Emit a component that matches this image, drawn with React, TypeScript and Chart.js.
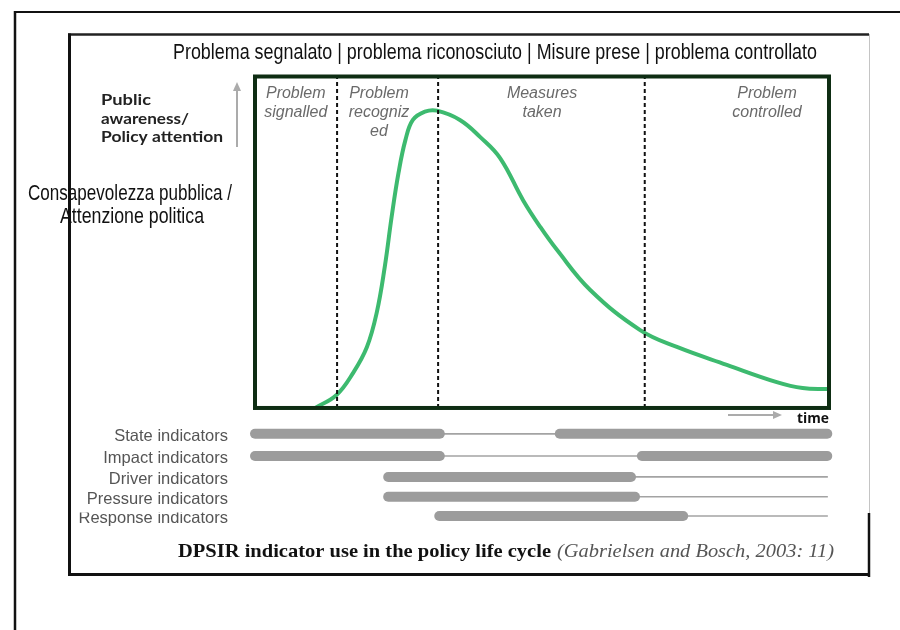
import React, { useEffect, useRef } from "react";
import { Chart, registerables } from "chart.js";
Chart.register(...registerables);

// ---------- data ----------
const TITLE_IT = "Problema segnalato | problema riconosciuto | Misure prese | problema controllato";
const YLABEL_IT = ["Consapevolezza pubblica /", "Attenzione politica"];
const YLABEL_EN = ["Public", "awareness/", "Policy attention"];
const X_LABEL = "time";

const PHASE_LABELS: string[][] = [
  ["Problem", "signalled"],
  ["Problem", "recogniz", "ed"],
  ["Measures", "taken"],
  ["Problem", "controlled"],
];
const PHASE_CENTERS = [7.1, 21.6, 50.0, 89.2];
const PHASE_BOUNDARIES = [14.3, 31.9, 67.9];

const CURVE_X = [10.5, 14.2, 17.1, 19.5, 21.2, 22.6, 23.8, 25.0, 26.2, 27.5, 29.6, 31.7, 35.7, 39.2, 42.7, 46.7, 49.7, 52.6, 58.4, 67.1, 73.5, 82.2, 90.9, 95.4, 99.8];
const CURVE_Y = [0, 3.9, 10.6, 18.4, 28.7, 42.5, 57.6, 70.9, 80.8, 86.9, 89.4, 89.7, 86.9, 81.8, 75.4, 62.7, 54.6, 47.7, 35.6, 23.5, 18.4, 13.0, 7.8, 6.0, 5.7];

const INDICATORS = ["State indicators", "Impact indicators", "Driver indicators", "Pressure indicators", "Response indicators"];
const INDICATOR_ROW = [-7.8, -14.5, -20.8, -26.8, -32.6];
const INDICATOR_THICK: number[][][] = [
  [[0.0, 32.2], [53.1, 99.7]],
  [[0.0, 32.2], [67.4, 99.7]],
  [[23.2, 65.5]],
  [[23.2, 66.2]],
  [[32.1, 74.6]],
];
const INDICATOR_THIN_END = [99.7, 99.7, 99.8, 99.8, 99.8];

const CAPTION_BOLD = "DPSIR indicator use in the policy life cycle";
const CAPTION_ITALIC = "(Gabrielsen and Bosch, 2003: 11)";

// ---------- helpers ----------
function fitText(ctx: CanvasRenderingContext2D, text: string, x: number, y: number, width: number, align: "left" | "center" | "right") {
  const w = ctx.measureText(text).width;
  const s = width / w;
  const x0 = align === "left" ? x : align === "center" ? x - width / 2 : x - width;
  ctx.save();
  ctx.translate(x0, y);
  ctx.scale(s, 1);
  ctx.textAlign = "left";
  ctx.fillText(text, 0, 0);
  ctx.restore();
}

function line(ctx: CanvasRenderingContext2D, x1: number, y1: number, x2: number, y2: number, w: number, c: string) {
  ctx.save();
  ctx.strokeStyle = c;
  ctx.lineWidth = w;
  ctx.beginPath();
  ctx.moveTo(x1, y1);
  ctx.lineTo(x2, y2);
  ctx.stroke();
  ctx.restore();
}

const decoPlugin = {
  id: "deco",
  beforeDraw(chart: any) {
    const ctx: CanvasRenderingContext2D = chart.ctx;
    ctx.save();
    ctx.fillStyle = "#ffffff";
    ctx.fillRect(0, 0, chart.width, chart.height);
    ctx.restore();
    // outer frame
    line(ctx, 14, 12, 900, 12, 2, "#111");
    line(ctx, 15, 11, 15, 630, 2.5, "#111");
    // inner frame
    line(ctx, 68, 34.5, 869, 34.5, 2.5, "#222");
    line(ctx, 869.5, 34, 869.5, 513, 1, "#c4c4c4");
    line(ctx, 869, 513, 869, 577, 2.5, "#111");
    line(ctx, 69.5, 33.5, 69.5, 576, 3, "#111");
    line(ctx, 68, 574.5, 870, 574.5, 3, "#111");
  },
  afterDatasetsDraw(chart: any) {
    const ctx: CanvasRenderingContext2D = chart.ctx;
    const xs = chart.scales.x;
    const ys = chart.scales.y;
    const L = xs.getPixelForValue(0);
    const R = xs.getPixelForValue(100);
    const T = ys.getPixelForValue(100);
    const B = ys.getPixelForValue(0);

    // plot frame
    ctx.save();
    ctx.strokeStyle = "#0e2d13";
    ctx.lineWidth = 4;
    ctx.strokeRect(L, T, R - L, B - T);
    ctx.restore();

    ctx.save();
    ctx.textBaseline = "alphabetic";

    // phase labels
    ctx.fillStyle = "#6a6a6a";
    ctx.font = 'italic 16px "Liberation Sans", Arial, sans-serif';
    ctx.textAlign = "center";
    PHASE_LABELS.forEach((lines, i) => {
      const cx = xs.getPixelForValue(PHASE_CENTERS[i]);
      lines.forEach((t, j) => ctx.fillText(t, cx, T + 21.5 + j * 19.2));
    });

    // top title
    ctx.fillStyle = "#111";
    ctx.font = '22px "Liberation Sans Narrow", "Liberation Sans", Arial, sans-serif';
    fitText(ctx, TITLE_IT, 495, 59, 644, "center");

    // italian y label
    fitText(ctx, YLABEL_IT[0], 28, 200, 204, "left");
    fitText(ctx, YLABEL_IT[1], 60, 223, 144, "left");

    // english y label
    ctx.fillStyle = "#222";
    ctx.font = 'bold 15px Lato, "Open Sans", sans-serif';
    fitText(ctx, YLABEL_EN[0], 101, 105, 50, "left");
    fitText(ctx, YLABEL_EN[1], 101, 124, 88, "left");
    fitText(ctx, YLABEL_EN[2], 101, 142, 122, "left");

    // vertical arrow
    line(ctx, 237, 147, 237, 88, 2, "#ababab");
    ctx.fillStyle = "#ababab";
    ctx.beginPath();
    ctx.moveTo(237, 82);
    ctx.lineTo(233, 91);
    ctx.lineTo(241, 91);
    ctx.closePath();
    ctx.fill();

    // horizontal arrow + time
    line(ctx, 728, 415, 775, 415, 2, "#ababab");
    ctx.beginPath();
    ctx.moveTo(782, 415);
    ctx.lineTo(773, 411);
    ctx.lineTo(773, 419);
    ctx.closePath();
    ctx.fill();
    ctx.fillStyle = "#111";
    ctx.font = 'bold 14px "Open Sans", Lato, sans-serif';
    fitText(ctx, X_LABEL, 829, 423, 32, "right");

    // indicator labels
    ctx.fillStyle = "#555";
    ctx.font = '16.5px "Liberation Sans", Arial, sans-serif';
    ctx.textAlign = "right";
    INDICATORS.forEach((t, i) => {
      const py = ys.getPixelForValue(INDICATOR_ROW[i]);
      ctx.save();
      if (i === INDICATORS.length - 1) {
        ctx.beginPath();
        ctx.rect(0, py - 3.5, 260, 40);
        ctx.clip();
      }
      ctx.fillText(t, 228, py + 6.8);
      ctx.restore();
    });

    // caption
    ctx.fillStyle = "#111";
    ctx.font = 'bold 19px "Liberation Serif", "Times New Roman", serif';
    fitText(ctx, CAPTION_BOLD, 178, 557, 373, "left");
    ctx.fillStyle = "#555";
    ctx.font = 'italic 19px "Liberation Serif", "Times New Roman", serif';
    fitText(ctx, CAPTION_ITALIC, 557, 557, 277, "left");

    ctx.restore();
  },
};

export default function App() {
  const ref = useRef<HTMLCanvasElement | null>(null);
  useEffect(() => {
    if (!ref.current) return;
    const datasets: any[] = [];

    PHASE_BOUNDARIES.forEach((b) => {
      datasets.push({
        data: [{ x: b, y: 0 }, { x: b, y: 100 }],
        borderColor: "#111",
        borderWidth: 2,
        borderDash: [4, 3],
        pointRadius: 0,
        order: 0,
        clip: false,
      });
    });

    datasets.push({
      data: CURVE_X.map((x, i) => ({ x, y: CURVE_Y[i] })),
      borderColor: "#3dba6f",
      borderWidth: 4,
      pointRadius: 0,
      tension: 0.4,
      cubicInterpolationMode: "default",
      order: 1,
      clip: false,
    });

    INDICATORS.forEach((_, i) => {
      const row = INDICATOR_ROW[i];
      const segs = INDICATOR_THICK[i];
      datasets.push({
        data: [{ x: segs[0][0], y: row }, { x: INDICATOR_THIN_END[i], y: row }],
        borderColor: "#a3a3a3",
        borderWidth: 1.6,
        pointRadius: 0,
        order: 3,
        clip: false,
      });
      segs.forEach((s) => {
        datasets.push({
          data: [{ x: s[0], y: row }, { x: s[1], y: row }],
          borderColor: "#9c9c9c",
          borderWidth: 10,
          borderCapStyle: "round",
          pointRadius: 0,
          order: 2,
          clip: false,
        });
      });
    });

    const chart = new Chart(ref.current, {
      type: "line",
      data: { datasets },
      options: {
        responsive: false,
        animation: false,
        events: [],
        layout: { padding: { left: 255, right: 71, top: 76.5, bottom: 102.7 } },
        scales: {
          x: { type: "linear", min: 0, max: 100, display: false },
          y: { type: "linear", min: -36, max: 100, display: false },
        },
        plugins: { legend: { display: false }, tooltip: { enabled: false }, title: { display: false } },
      },
      plugins: [decoPlugin],
    } as any);
    return () => chart.destroy();
  }, []);

  return (
    <div style={{ position: "absolute", left: 0, top: 0, width: 900, height: 630, background: "#fff" }}>
      <canvas ref={ref} width={900} height={630} style={{ display: "block", width: 900, height: 630 }} />
    </div>
  );
}
